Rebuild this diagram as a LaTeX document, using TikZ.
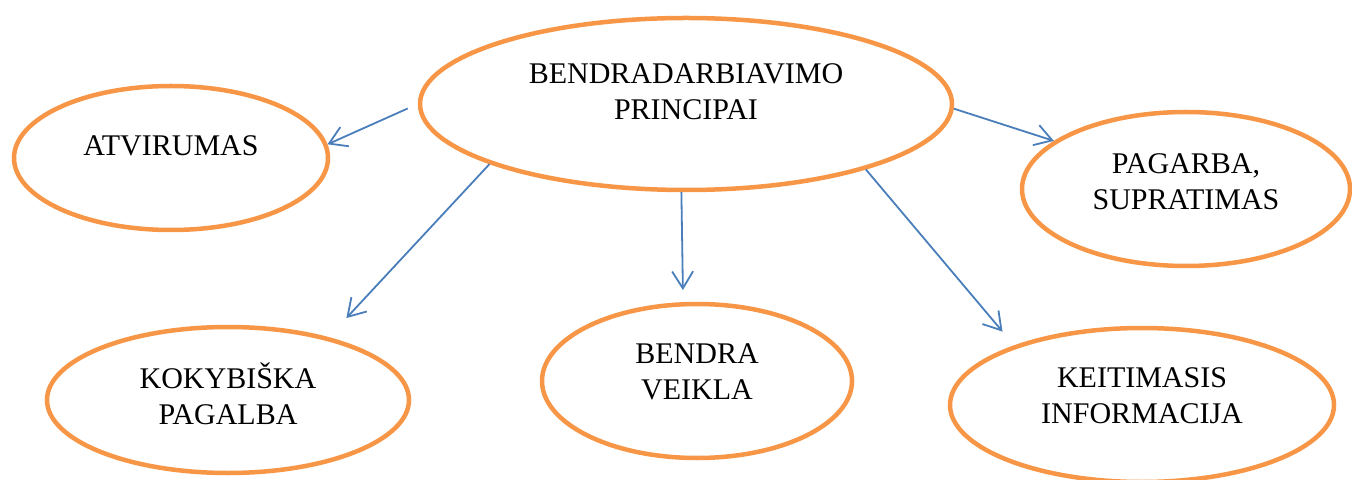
\documentclass[tikz,border=0pt]{standalone}
\usepackage{fontspec}
\setmainfont{Liberation Serif}
\usetikzlibrary{shapes.geometric,arrows.meta}
\definecolor{bubbleorange}{HTML}{F79646}
\definecolor{arrowblue}{HTML}{4A7EBB}
\tikzset{
	bubble/.style={ellipse,draw=bubbleorange,line width=2.25pt,align=center,inner sep=0pt,font=\fontsize{15}{18}\selectfont},
	link/.style={draw=arrowblue,line width=0.9pt,-{Straight Barb[length=8.5pt,width=10.5pt]}}
}
\begin{document}
\begin{tikzpicture}[x=0.5pt,y=-0.5pt]
	\useasboundingbox (0,0) rectangle (1352,480);
	\node[bubble,minimum width=266pt,minimum height=86pt,text depth=12.5pt] (principai) at (686,104) {BENDRADARBIAVIMO\\PRINCIPAI};
	\node[bubble,minimum width=157pt,minimum height=72pt,text depth=12pt] (atvirumas) at (171,158) {ATVIRUMAS};
	\node[bubble,minimum width=164pt,minimum height=77pt,text depth=7.5pt] (pagarba) at (1186,189) {PAGARBA,\\SUPRATIMAS};
	\node[bubble,minimum width=181pt,minimum height=73pt,text depth=6pt] (pagalba) at (228,400) {KOKYBIŠKA\\PAGALBA};
	\node[bubble,minimum width=155pt,minimum height=77pt,text depth=9.5pt] (veikla) at (697,381) {BENDRA\\VEIKLA};
	\node[bubble,minimum width=192pt,minimum height=77pt,text depth=9pt] (informacija) at (1142,405) {KEITIMASIS\\INFORMACIJA};
	\draw[link,shorten <=5.5pt] (principai.180) -- (atvirumas.5);
	\draw[link,shorten >=13pt] (principai.197) -- (pagalba.32);
	\draw[link,shorten >=6pt] (principai.267) -- (veikla.100);
	\draw[link,shorten >=9pt] (principai.340) -- (informacija.155);
	\draw[link] (principai.359) -- (pagarba.160);
\end{tikzpicture}
\end{document}
